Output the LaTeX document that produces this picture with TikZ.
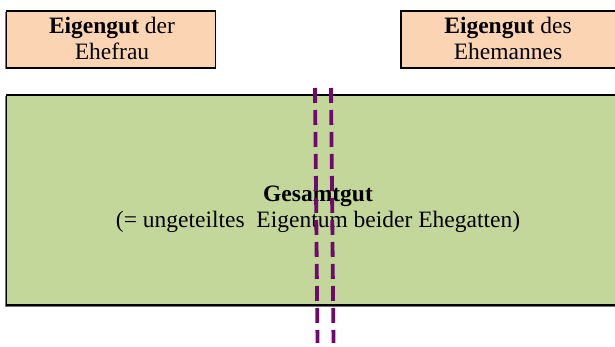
\documentclass[tikz,border=0pt]{standalone}
\usepackage{fontspec}
\setmainfont{Liberation Serif}
\definecolor{peach}{HTML}{FBD4B4}
\definecolor{sage}{HTML}{C4D79B}
\definecolor{plum}{HTML}{6E0A6E}
\begin{document}
\begin{tikzpicture}[x=1pt,y=-1pt,
  boxstyle/.style={draw=black, line width=1.1pt},
  shadowstyle/.style={fill=black!55},
  label/.style={font=\fontsize{23.5}{26}\selectfont, align=center, inner sep=0pt},
  divider/.style={draw=plum, line width=3.8pt, dash pattern=on 15pt off 7pt}]
\useasboundingbox (0,0) rectangle (615,347);
% wife's separate property
\fill[shadowstyle] (5,12.5) rectangle (214,69.5);
\filldraw[boxstyle, fill=peach] (6.5,11) rectangle (215.5,68);
\node[label] (wife) at (112,38) {\textbf{Eigengut} der\\Ehefrau};
% husband's separate property
\fill[shadowstyle] (399.5,12.5) rectangle (630,69.5);
\filldraw[boxstyle, fill=peach] (401,11) rectangle (630,68);
\node[label] (husband) at (508,38) {\textbf{Eigengut} des\\Ehemannes};
% joint property
\fill[shadowstyle] (5,96.5) rectangle (630,306.5);
\filldraw[boxstyle, fill=sage] (6.5,95) rectangle (630,305);
\node[label] (joint) at (318,209) {\textbf{Gesamtgut}\\(= ungeteiltes\ \ Eigentum beider Ehegatten)};
% dividing lines
\coordinate (d1t) at (315,88);
\coordinate (d1b) at (317.5,343);
\coordinate (d2t) at (331,88);
\coordinate (d2b) at (333.5,343);
\draw[divider] (d1t) -- (d1b);
\draw[divider] (d2t) -- (d2b);
\end{tikzpicture}
\end{document}
